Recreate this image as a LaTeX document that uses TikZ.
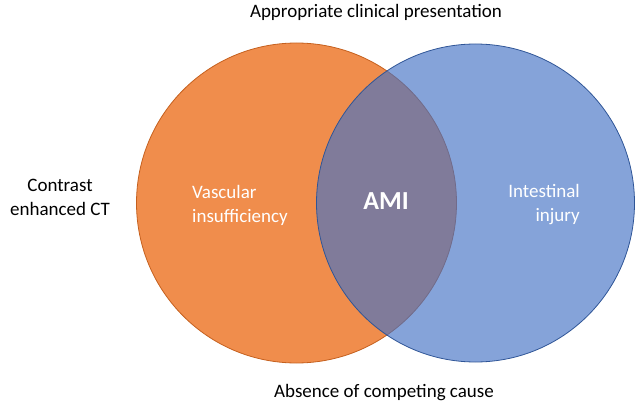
\documentclass[tikz,border=0pt]{standalone}
\usepackage{fontspec}
\setmainfont{Carlito}
\usepackage{tikz}
\usetikzlibrary{calc}
\usetikzlibrary{shapes}
\usetikzlibrary{backgrounds}
\definecolor{vascfill}{HTML}{F08D4C}
\definecolor{vascline}{HTML}{C5601E}
\definecolor{injfill}{HTML}{4472C4}
\definecolor{injline}{HTML}{2F5597}
\tikzset{
  venn/.style={circle, inner sep=0pt, minimum size=#1, line width=0.8pt},
  lbl/.style={font=\fontsize{19}{24}\selectfont, inner sep=0pt},
  inlbl/.style={lbl, text=white}
}

\begin{document}
\begin{tikzpicture}[x=1pt,y=-1pt]
  \useasboundingbox (0,0) rectangle (640,409);
  % the two sets
  \node[venn=320pt, fill=vascfill, draw=vascline] (vasc) at (296.5,203) {};
  \node[venn=318pt, fill=injfill, fill opacity=0.65, draw=injline] (inj) at (475.5,203) {};
  % labels inside
  \node[inlbl, align=left, anchor=west] (vasctxt) at (192,205) {Vascular\\insufficiency};
  \node[inlbl, align=right, anchor=east] (injtxt) at (580,205) {Intestinal\\injury};
  \node[inlbl, font=\fontsize{26}{30}\selectfont\bfseries] (ami) at (386,201) {AMI};
  % conditions round the diagram
  \node[lbl] (clin) at (376,12) {Appropriate clinical presentation};
  \node[lbl] (cause) at (384,393) {Absence of competing cause};
  \node[lbl, align=center] (ct) at (60,197) {Contrast\\enhanced CT};
\end{tikzpicture}
\end{document}
